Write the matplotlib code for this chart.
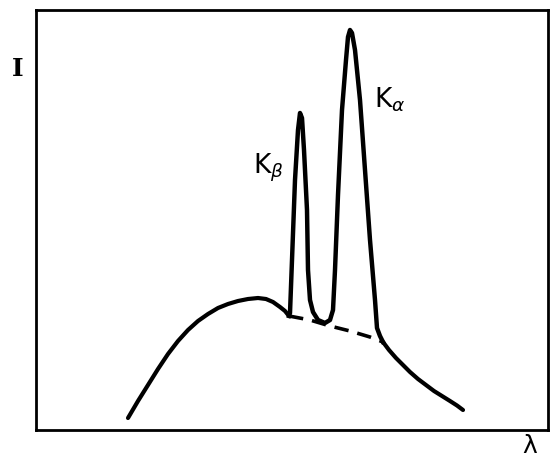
import numpy as np
import matplotlib.pyplot as plt

# values (arbitrary units: wavelength, intensity)
cont_lam = [92, 102, 112, 122, 132, 142, 152, 162, 172, 182, 192, 202, 212, 222,
            230, 237, 244, 249, 253]
cont_I = [12, 29, 45, 61, 76, 89, 100, 109, 116, 122, 126, 129, 131, 132,
          131, 128, 123, 119, 114]

peak_lam = [253, 254, 256, 259, 262, 264, 266, 268, 271, 272, 274, 277, 282, 289, 294,
            297, 299, 302, 306, 310, 312, 314, 316, 319, 324, 329, 334, 339, 341, 344, 347]
peak_I = [114, 117, 170, 250, 300, 317, 312, 280, 220, 160, 130, 118, 110, 107, 110,
          120, 160, 235, 320, 370, 393, 400, 397, 380, 330, 260, 190, 130, 102, 94, 88]

tail_lam = [347, 353, 360, 367, 374, 382, 390, 398, 406, 414, 421, 427]
tail_I = [88, 80, 72, 65, 58, 51, 45, 39, 34, 29, 24.5, 20]

base_lam = [253, 274, 294, 314, 334, 347]
base_I = [114, 110, 104, 99, 93, 88]

fig = plt.figure(figsize=(5.52, 4.58), dpi=100)
ax = fig.add_axes([36 / 552, 28 / 458, 512 / 552, 420 / 458])

ax.plot(cont_lam, cont_I, color='black', lw=3, solid_capstyle='round',
        solid_joinstyle='round')
ax.plot(peak_lam, peak_I, color='black', lw=3.2, solid_joinstyle='round')
ax.plot(tail_lam, tail_I, color='black', lw=3, solid_capstyle='round',
        solid_joinstyle='round')
ax.plot(base_lam, base_I, color='black', lw=2.6, dashes=(4, 2.5))

ax.text(217, 262, r'K$_\beta$', fontsize=19, ha='left', va='center')
ax.text(338, 330, r'K$_\alpha$', fontsize=19, ha='left', va='center')

ax.set_xlim(0, 512)
ax.set_ylim(0, 420)
ax.set_xticks([])
ax.set_yticks([])
for s in ax.spines.values():
    s.set_linewidth(2)

fig.text(18 / 552, 1 - 69 / 458, 'I', fontsize=18, family='DejaVu Serif',
         weight='bold', ha='center', va='center')
fig.text(530 / 552, 1 - 446 / 458, 'λ', fontsize=18, ha='center', va='center')

fig.savefig('out.png', dpi=100)
